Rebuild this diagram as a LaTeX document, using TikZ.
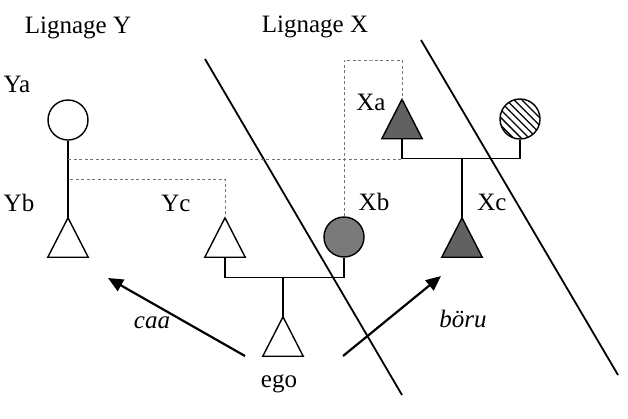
\documentclass[tikz,border=0pt]{standalone}
\usepackage{fontspec}
\setmainfont{LiberationSerif}[Extension=.ttf,UprightFont=*-Regular,ItalicFont=*-Italic,BoldFont=*-Bold,BoldItalicFont=*-BoldItalic]
\usetikzlibrary{arrows.meta,patterns.meta}
\begin{document}
\begin{tikzpicture}[x=1pt,y=-1pt,
  lbl/.style={anchor=base,inner sep=0,font=\fontsize{25}{30}\selectfont},
  ilbl/.style={lbl,font=\fontsize{25}{30}\selectfont\itshape},
  trinode/.style={minimum width=40pt,minimum height=39pt,inner sep=0,draw=none},
  tri/.style={line width=1.4pt,line join=miter},
  circ/.style={circle,draw,line width=1.4pt,minimum size=40pt,inner sep=0},
  kin/.style={line width=1.4pt},
  dsh/.style={line width=0.9pt,black!55,dash pattern=on 3pt off 2.5pt},
  diag/.style={line width=1.8pt},
  arr/.style={line width=2.2pt,-{Triangle[length=15pt,width=13pt]}},
  dark/.style={fill=black!62}
]
\useasboundingbox (0,0) rectangle (628,418);

% titles
\node[lbl] (ly) at (78,33) {Lignage Y};
\node[lbl] (lx) at (315,32) {Lignage X};

% dividing lines
\coordinate (d1a) at (205,59);
\coordinate (d1b) at (402,395);
\coordinate (d2a) at (421,40);
\coordinate (d2b) at (618,375);
\draw[diag] (d1a) -- (d1b);
\draw[diag] (d2a) -- (d2b);

% individuals
\node[circ] (ya) at (68,120) {};
\node[trinode] (yb) at (68,237.5) {};
\node[trinode] (yc) at (225,237.5) {};
\node[circ,fill=black!52] (xb) at (344,237) {};
\node[trinode] (xa) at (402,119) {};
\node[circ,pattern={Lines[angle=-45,distance=5.5pt,line width=1.3pt]}] (xw) at (520,119) {};
\node[trinode] (xc) at (462,237.5) {};
\node[trinode] (ego) at (283,336.5) {};

\draw[tri] (yb.north) -- (yb.south east) -- (yb.south west) -- cycle;
\draw[tri] (yc.north) -- (yc.south east) -- (yc.south west) -- cycle;
\draw[tri,dark] (xa.north) -- (xa.south east) -- (xa.south west) -- cycle;
\draw[tri,dark] (xc.north) -- (xc.south east) -- (xc.south west) -- cycle;
\draw[tri] (ego.north) -- (ego.south east) -- (ego.south west) -- cycle;

% labels
\node[lbl] (tya) at (17,92) {Ya};
\node[lbl] (tyb) at (19,211) {Yb};
\node[lbl] (tyc) at (176,211) {Yc};
\node[lbl] (txa) at (371,110) {Xa};
\node[lbl] (txb) at (374,210) {Xb};
\node[lbl] (txc) at (492,210) {Xc};
\node[lbl] (tego) at (279,387) {ego};
\node[ilbl] (tcaa) at (152,328) {caa};
\node[ilbl] (tboru) at (463,327) {böru};

% kinship lines
\draw[kin] (ya.south) -- (yb.north);
\draw[kin] (yc.south) -- ++(0,20) -| (xb.south);
\coordinate (sib1) at (283,277);
\draw[kin] (sib1) -- (ego.north);
\draw[kin] (xa.south) -- ++(0,20) -| (xw.south);
\coordinate (sib2) at (462,159);
\draw[kin] (sib2) -- (xc.north);

% dashed links
\coordinate (dy1) at (68,159);
\coordinate (dx1) at (402,159);
\draw[dsh] (dy1) -- (dx1);
\coordinate (dy2) at (70,179);
\draw[dsh] (dy2) -| (yc.north);
\draw[dsh] (xb.north) |- (372,60) -| (xa.north);

% arrows
\coordinate (ca0) at (245,356);
\coordinate (ca1) at (108,278);
\coordinate (bo0) at (343,356);
\coordinate (bo1) at (441,276);
\draw[arr] (ca0) -- (ca1);
\draw[arr] (bo0) -- (bo1);
\end{tikzpicture}
\end{document}
